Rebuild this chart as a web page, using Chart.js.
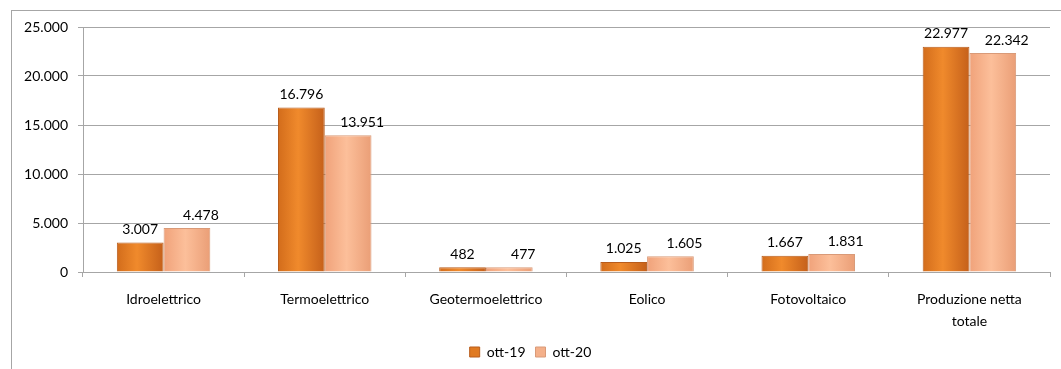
<!DOCTYPE html>
<html>
<head>
<meta charset="utf-8">
<script src="https://cdn.jsdelivr.net/npm/chart.js@4.4.1/dist/chart.umd.min.js"></script>
<style>
    html, body { margin: 0; padding: 0; background: #fff; }
    #wrap { position: relative; width: 1061px; height: 369px; overflow: hidden; }
    #frame { position: absolute; left: 11px; top: 10px; width: 1200px; height: 500px;
             border-left: 1px solid #a6a6a6; border-top: 1px solid #a6a6a6; }
    canvas { position: absolute; left: 0; top: 0; }
</style>
</head>
<body>
<div id="wrap">
    <div id="frame"></div>
    <canvas id="prodChart" width="1061" height="369"></canvas>
</div>
<script>
const categories = ['Idroelettrico', 'Termoelettrico', 'Geotermoelettrico', 'Eolico', 'Fotovoltaico', ['Produzione netta', 'totale']];
const ott19 = [3007, 16796, 482, 1025, 1667, 22977];
const ott20 = [4478, 13951, 477, 1605, 1831, 22342];
const seriesNames = ['ott-19', 'ott-20'];
const yTicks = [0, 5000, 10000, 15000, 20000, 25000];

const FONT = 'Lato, "Open Sans", sans-serif';

function fmt(v) {
    return String(v).replace(/\B(?=(\d{3})+(?!\d))/g, '.');
}

// horizontal shading so the bars look a bit like the excel bevel
function barShade(stops, side) {
    return ctx => {
        const chart = ctx.chart;
        const x = chart.scales.x;
        if (!chart.chartArea || !x || ctx.dataIndex === undefined) return stops[1];
        const catW = (x.right - x.left) / categories.length;
        const w = catW * 0.6 / 2;
        const c = x.getPixelForValue(ctx.dataIndex) + side * w / 2;
        const g = chart.ctx.createLinearGradient(c - w / 2, 0, c + w / 2, 0);
        g.addColorStop(0, stops[0]);
        g.addColorStop(0.45, stops[1]);
        g.addColorStop(1, stops[2]);
        return g;
    };
}

const valueLabels = {
    id: 'valueLabels',
    afterDatasetsDraw(chart) {
        const ctx = chart.ctx;
        ctx.save();
        ctx.font = '14px ' + FONT;
        ctx.fillStyle = '#000';
        ctx.textAlign = 'center';
        ctx.textBaseline = 'bottom';
        chart.data.datasets.forEach((ds, di) => {
            chart.getDatasetMeta(di).data.forEach((bar, i) => {
                const dx = di === 0 ? 0 : 14;
                ctx.fillText(fmt(ds.data[i]), bar.x + dx, bar.y - 6);
            });
        });
        ctx.restore();
    }
};

const ctx = document.getElementById('prodChart').getContext('2d');
new Chart(ctx, {
    type: 'bar',
    data: {
        labels: categories,
        datasets: [
            {
                label: seriesNames[0],
                data: ott19,
                backgroundColor: barShade(['#d06a1a', '#f08a2c', '#c5601a'], -1),
                borderColor: '#b85c1c',
                borderWidth: 1
            },
            {
                label: seriesNames[1],
                data: ott20,
                backgroundColor: barShade(['#f0a27a', '#fcbf9a', '#e99c74'], 1),
                borderColor: '#d99a78',
                borderWidth: 1
            }
        ]
    },
    options: {
        responsive: false,
        animation: false,
        layout: { padding: { left: 11, right: 11, top: 27, bottom: 0 } },
        categoryPercentage: 0.58,
        barPercentage: 1.0,
        plugins: {
            legend: {
                position: 'bottom',
                labels: {
                    color: '#000',
                    font: { family: FONT, size: 14 },
                    boxWidth: 10,
                    boxHeight: 10,
                    padding: 10,
                    generateLabels(chart) {
                        return chart.data.datasets.map((ds, i) => ({
                            text: ds.label,
                            fillStyle: i === 0 ? '#e07a22' : '#f4b08a',
                            strokeStyle: i === 0 ? '#b85c1c' : '#d99a78',
                            lineWidth: 1,
                            datasetIndex: i,
                            fontColor: '#000'
                        }));
                    }
                }
            },
            tooltip: { enabled: false }
        },
        scales: {
            x: {
                afterFit: s => { s.height = 63; },
                grid: { drawOnChartArea: false, tickLength: 5, color: '#a6a6a6', offset: true },
                border: { color: '#a6a6a6' },
                ticks: { color: '#000', font: { family: FONT, size: 14, lineHeight: 1.55 }, padding: 12, maxRotation: 0, autoSkip: false }
            },
            y: {
                min: 0,
                max: 25000,
                afterFit: s => { s.width = 72; },
                afterBuildTicks: s => { s.ticks = yTicks.map(v => ({ value: v })); },
                grid: { color: '#a6a6a6', tickLength: 5 },
                border: { color: '#a6a6a6' },
                ticks: { color: '#000', font: { family: FONT, size: 14 }, padding: 10, callback: v => fmt(v) }
            }
        }
    },
    plugins: [valueLabels]
});
</script>
</body>
</html>
